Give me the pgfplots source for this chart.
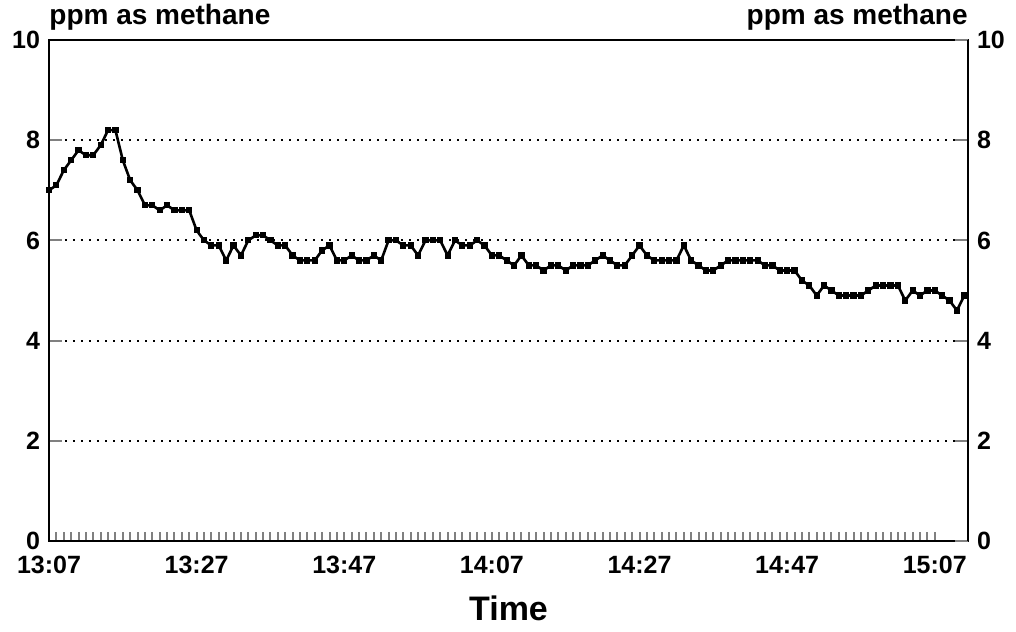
\documentclass[border=0pt]{standalone}
\usepackage{pgfplots}
\pgfplotsset{compat=1.18}
\usepackage{fontspec}
\setmainfont{Liberation Sans}
\pgfplotstableread{
t v
0 7.0
1 7.1
2 7.4
3 7.6
4 7.8
5 7.7
6 7.7
7 7.9
8 8.2
9 8.2
10 7.6
11 7.2
12 7.0
13 6.7
14 6.7
15 6.6
16 6.7
17 6.6
18 6.6
19 6.6
20 6.2
21 6.0
22 5.9
23 5.9
24 5.6
25 5.9
26 5.7
27 6.0
28 6.1
29 6.1
30 6.0
31 5.9
32 5.9
33 5.7
34 5.6
35 5.6
36 5.6
37 5.8
38 5.9
39 5.6
40 5.6
41 5.7
42 5.6
43 5.6
44 5.7
45 5.6
46 6.0
47 6.0
48 5.9
49 5.9
50 5.7
51 6.0
52 6.0
53 6.0
54 5.7
55 6.0
56 5.9
57 5.9
58 6.0
59 5.9
60 5.7
61 5.7
62 5.6
63 5.5
64 5.7
65 5.5
66 5.5
67 5.4
68 5.5
69 5.5
70 5.4
71 5.5
72 5.5
73 5.5
74 5.6
75 5.7
76 5.6
77 5.5
78 5.5
79 5.7
80 5.9
81 5.7
82 5.6
83 5.6
84 5.6
85 5.6
86 5.9
87 5.6
88 5.5
89 5.4
90 5.4
91 5.5
92 5.6
93 5.6
94 5.6
95 5.6
96 5.6
97 5.5
98 5.5
99 5.4
100 5.4
101 5.4
102 5.2
103 5.1
104 4.9
105 5.1
106 5.0
107 4.9
108 4.9
109 4.9
110 4.9
111 5.0
112 5.1
113 5.1
114 5.1
115 5.1
116 4.8
117 5.0
118 4.9
119 5.0
120 5.0
121 4.9
122 4.8
123 4.6
124 4.9
}\methane
\begin{document}
\begin{tikzpicture}
\begin{axis}[
  scale only axis,
  width=459.5pt, height=250.5pt,
  xmin=0, xmax=124.5, ymin=0, ymax=10,
  axis line style={line width=1pt},
  xtick={0,20,...,120},
  xticklabels={13:07,13:27,13:47,14:07,14:27,14:47,15:07},
  minor x tick num=19,
  ytick={0,2,...,10},
  xtick pos=bottom, ytick pos=left,
  tick align=inside,
  xtick style={line width=1pt, /pgfplots/major tick length=4.5pt, /pgfplots/minor tick length=4.5pt},
  ytick style={line width=1pt, /pgfplots/major tick length=6.5pt},
  ymajorgrids,
  grid style={line width=1pt, dash pattern=on 1.2pt off 2.8pt, black},
  /pgf/number format/assume math mode=true,
  ticklabel style={font=\bfseries\fontsize{12.5}{13}\selectfont},
  xticklabel style={yshift=-4pt},
  yticklabel style={xshift=-1pt},
  xlabel={Time},
  xlabel style={at={(axis description cs:0.5,0)}, anchor=center, yshift=-33.5pt, font=\bfseries\fontsize{17}{19}\selectfont},
]
\addplot[black, line width=1.3pt, mark=square*, mark size=0.9pt] table[x=t, y=v] {\methane};
\coordinate (sw) at (rel axis cs:0,0);
\coordinate (ne) at (rel axis cs:1,1);
\coordinate (nw) at (rel axis cs:0,1);
\end{axis}
\begin{axis}[
  scale only axis,
  width=459.5pt, height=250.5pt,
  xmin=0, xmax=124.5, ymin=0, ymax=10,
  axis x line=none,
  axis y line*=right,
  axis line style={line width=1pt},
  ytick={0,2,...,10},
  tick align=inside,
  ytick style={line width=1pt, /pgfplots/major tick length=6.5pt},
  /pgf/number format/assume math mode=true,
  ticklabel style={font=\bfseries\fontsize{12.5}{13}\selectfont},
  yticklabel style={xshift=1pt},
]
\end{axis}
\node[anchor=base west, font=\bfseries\fontsize{14}{16}\selectfont, inner sep=0pt] at ([yshift=7.5pt]nw) {ppm as methane};
\node[anchor=base east, font=\bfseries\fontsize{14}{16}\selectfont, inner sep=0pt] at ([yshift=7.5pt]ne) {ppm as methane};
\path ([xshift=-24.5pt,yshift=-45pt]sw) rectangle ([xshift=24pt,yshift=20pt]ne);
\end{tikzpicture}
\end{document}
